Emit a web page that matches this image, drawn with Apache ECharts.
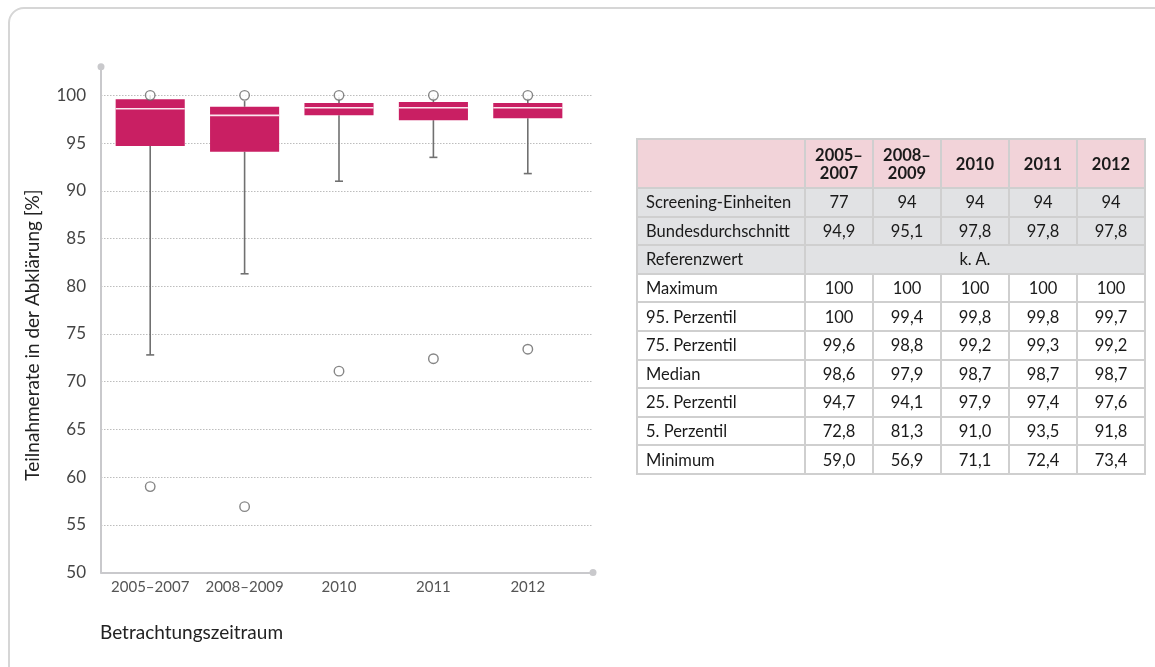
<!DOCTYPE html>
<html>
<head>
<meta charset="utf-8">
<script src="https://cdn.jsdelivr.net/npm/echarts@6.0.0/dist/echarts.min.js"></script>
<style>
  html, body { margin: 0; padding: 0; width: 1155px; height: 667px; overflow: hidden; background: #fff; font-family: Lato, sans-serif; }
  .card { position: absolute; left: 8px; top: 7px; width: 1170px; height: 690px; border: 2px solid #d6d6d6; border-radius: 16px; box-sizing: border-box; }
  #chart { position: absolute; left: 0; top: 0; width: 1155px; height: 667px; }
  #tbl { position: absolute; left: 636px; top: 138px; border-collapse: collapse; font-family: Lato, sans-serif; font-size: 16.5px; color: #1a1a1a; }
  #tbl td, #tbl th { border: 2px solid #cfcfcf; padding: 0; height: 26.6px; text-align: center; width: 66px; }
  #tbl td.lbl { text-align: left; padding-left: 8px; width: 158px; }
  #tbl tr.head th { background: #f2d3d9; height: 47px; font-weight: bold; line-height: 18px; }
  #tbl tr.grey td { background: #e1e2e4; }
</style>
</head>
<body>
<div class="card"></div>
<div id="chart"></div>
<table id="tbl"></table>
<script>
const categories = ['2005–2007', '2008–2009', '2010', '2011', '2012'];
const headLabels = ['2005–<br>2007', '2008–<br>2009', '2010', '2011', '2012'];
const units = [77, 94, 94, 94, 94];
const average = [94.9, 95.1, 97.8, 97.8, 97.8];
const maxVals = [100, 100, 100, 100, 100];
const p95 = [100, 99.4, 99.8, 99.8, 99.7];
const q3 = [99.6, 98.8, 99.2, 99.3, 99.2];
const median = [98.6, 97.9, 98.7, 98.7, 98.7];
const q1 = [94.7, 94.1, 97.9, 97.4, 97.6];
const p5 = [72.8, 81.3, 91.0, 93.5, 91.8];
const minVals = [59.0, 56.9, 71.1, 72.4, 73.4];
const yTicks = [50, 55, 60, 65, 70, 75, 80, 85, 90, 95, 100];

// table
function fmt(v) { return v === 100 ? '100' : v.toFixed(1).replace('.', ','); }
var html = '<tr class="head"><th style="width:160px"></th>' + headLabels.map(h => '<th>' + h + '</th>').join('') + '</tr>';
html += '<tr class="grey"><td class="lbl">Screening-Einheiten</td>' + units.map(v => '<td>' + v + '</td>').join('') + '</tr>';
html += '<tr class="grey"><td class="lbl">Bundesdurchschnitt</td>' + average.map(v => '<td>' + fmt(v) + '</td>').join('') + '</tr>';
html += '<tr class="grey"><td class="lbl">Referenzwert</td><td colspan="5">k. A.</td></tr>';
var rows = [['Maximum', maxVals], ['95. Perzentil', p95], ['75. Perzentil', q3], ['Median', median], ['25. Perzentil', q1], ['5. Perzentil', p5], ['Minimum', minVals]];
rows.forEach(r => { html += '<tr><td class="lbl">' + r[0] + '</td>' + r[1].map(v => '<td>' + fmt(v) + '</td>').join('') + '</tr>'; });
document.getElementById('tbl').innerHTML = html;

// chart
var myChart = echarts.init(document.getElementById('chart'));
var boxData = categories.map((c, i) => [i, p5[i], q1[i], median[i], q3[i], p95[i]]);

var option = {
  animation: false,
  textStyle: { fontFamily: 'Lato' },
  grid: [
    { left: 101, right: 562, top: 66.7, bottom: 94.5 },
    { left: 103, right: 580, top: 66.7, bottom: 94.5 }
  ],
  xAxis: [
    {
      gridIndex: 0, type: 'value', min: 0, max: 1,
      axisLine: { lineStyle: { color: '#c9c9cc', width: 2 }, symbol: ['none', 'circle'], symbolSize: [7, 7] },
      axisTick: { show: false }, axisLabel: { show: false }, splitLine: { show: false }
    },
    {
      gridIndex: 1, type: 'category', data: categories,
      axisLine: { show: false }, axisTick: { show: false }, splitLine: { show: false },
      axisLabel: { color: '#555', fontSize: 15, margin: 7, interval: 0 }
    }
  ],
  yAxis: [
    {
      gridIndex: 0, type: 'value', min: 50, max: 103, interval: 5,
      axisLine: { show: true, lineStyle: { color: '#c9c9cc', width: 2 }, symbol: ['none', 'circle'], symbolSize: [7, 7] },
      axisTick: { show: false },
      axisLabel: { color: '#444', fontSize: 17, margin: 15, showMaxLabel: false,
        formatter: v => (yTicks.indexOf(v) >= 0 ? String(v) : '') },
      splitLine: { show: true, showMaxLine: false, lineStyle: { color: '#bdbdbd', type: [1.5, 1.5], width: 1 } }
    },
    { gridIndex: 1, type: 'value', min: 50, max: 103, show: false }
  ],
  graphic: [
    { type: 'text', x: 33, y: 335, rotation: Math.PI / 2,
      style: { text: 'Teilnahmerate in der Abklärung [%]', fontSize: 19, fontFamily: 'Lato', fill: '#222', align: 'center', verticalAlign: 'middle' } },
    { type: 'text', x: 100, y: 633,
      style: { text: 'Betrachtungszeitraum', fontSize: 19, fontFamily: 'Lato', fill: '#222', align: 'left', verticalAlign: 'middle' } }
  ],
  series: [
    {
      type: 'custom', xAxisIndex: 1, yAxisIndex: 1, z: 2,
      data: boxData,
      renderItem: function (params, api) {
        var i = api.value(0);
        var w = api.size([1, 0])[0] * 0.732;
        var lo = api.coord([i, api.value(1)]);
        var b = api.coord([i, api.value(2)]);
        var m = api.coord([i, api.value(3)]);
        var t = api.coord([i, api.value(4)]);
        var hi = api.coord([i, api.value(5)]);
        var cx = lo[0];
        var ws = { stroke: '#707070', lineWidth: 1.6 };
        return {
          type: 'group',
          children: [
            { type: 'line', shape: { x1: cx, y1: lo[1], x2: cx, y2: b[1] }, style: ws },
            { type: 'line', shape: { x1: cx - 4, y1: lo[1], x2: cx + 4, y2: lo[1] }, style: ws },
            { type: 'line', shape: { x1: cx, y1: t[1], x2: cx, y2: hi[1] }, style: ws },
            { type: 'rect', shape: { x: cx - w / 2, y: t[1], width: w, height: b[1] - t[1] }, style: { fill: '#c91f63' } },
            { type: 'line', shape: { x1: cx - w / 2, y1: m[1], x2: cx + w / 2, y2: m[1] }, style: { stroke: '#fbe6ee', lineWidth: 1.6 } }
          ]
        };
      }
    },
    {
      type: 'scatter', xAxisIndex: 1, yAxisIndex: 1, z: 3,
      symbol: 'circle', symbolSize: 9.5,
      itemStyle: { color: '#fff', borderColor: '#666', borderWidth: 1.4 },
      data: maxVals.map((v, i) => [i, v]).concat(minVals.map((v, i) => [i, v]))
    }
  ]
};

option && myChart.setOption(option);
</script>
</body>
</html>
